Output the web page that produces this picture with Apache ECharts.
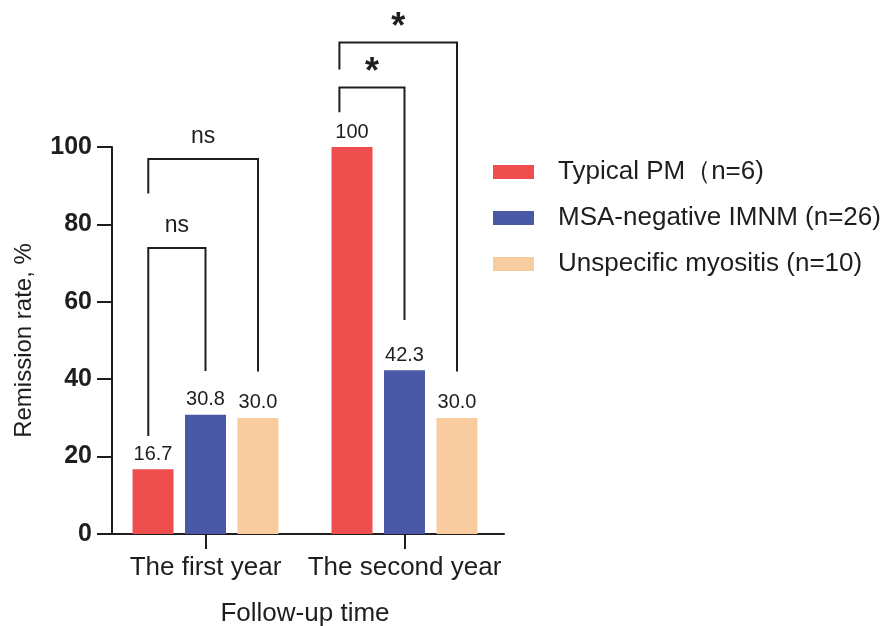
<!DOCTYPE html>
<html lang="en">
<head>
    <meta charset="UTF-8">
    <title>Remission rate</title>
    <style>
        html, body { margin: 0; padding: 0; background: #fff; }
        #main { width: 887px; height: 626px; }
    </style>
    <script src="https://cdn.jsdelivr.net/npm/echarts@6/dist/echarts.min.js"></script>
</head>
<body>

<div id="main"></div>

<script>

    // categories on the x axis
    var years = ['The first year', 'The second year'];

    // remission rate (%) per group
    var typicalPM = [16.7, 100];
    var msaNegative = [30.8, 42.3];
    var unspecific = [30.0, 30.0];

    var groupNames = ['Typical PM（n=6)', 'MSA-negative IMNM (n=26)', 'Unspecific myositis (n=10)'];
    var yTicks = [0, 20, 40, 60, 80, 100];

    // significance brackets: [year index, left slot, right slot, top, left leg end, right leg end, text]
    // slot -1 / 0 / 1 = red / blue / orange bar of the group
    var brackets = [
        [0, -1.09, 0, 73.9, 25.3, 42.1, 'ns'],
        [0, -1.09, 1, 96.9, 88.0, 42.0, 'ns'],
        [1, -1.24, 0, 115.4, 109.0, 55.3, '*'],
        [1, -1.24, 1, 127.0, 120.0, 42.0, '*']
    ];

    var colors = ['#EE4F4E', '#4A59A7', '#F8CC9E'];
    var ink = '#1e1e1e';
    var font = 'Liberation Sans, Arial, sans-serif';
    var barW = 41, barGapPx = 11.5;

    var chartDom = document.getElementById('main');
    var myChart = echarts.init(chartDom);

    function barSeries(name, data, color) {
        return {
            name: name,
            type: 'bar',
            data: data,
            barWidth: barW,
            barGap: (barGapPx / barW * 100).toFixed(0) + '%',
            itemStyle: { color: color },
            label: {
                show: true,
                position: 'top',
                distance: 5,
                color: ink,
                fontFamily: font,
                fontSize: 20,
                formatter: function (p) {
                    return p.value >= 100 ? String(p.value) : p.value.toFixed(1);
                }
            }
        };
    }

    function renderBracket(params, api) {
        var cat = api.value(0);
        var cx = api.coord([cat, 0])[0];
        var pitch = barW + barGapPx;
        var x1 = cx + api.value(1) * pitch;
        var x2 = cx + api.value(2) * pitch;
        var yTop = api.coord([cat, api.value(3)])[1];
        var yL = api.coord([cat, api.value(4)])[1];
        var yR = api.coord([cat, api.value(5)])[1];
        var txt = brackets[params.dataIndex][6];
        var star = txt === '*';
        return {
            type: 'group',
            children: [
                {
                    type: 'polyline',
                    shape: { points: [[x1, yL], [x1, yTop], [x2, yTop], [x2, yR]] },
                    style: { stroke: ink, lineWidth: 2, fill: null }
                },
                {
                    type: 'text',
                    x: (x1 + x2) / 2,
                    y: star ? yTop + 4 : yTop - 11,
                    style: {
                        text: txt,
                        fill: ink,
                        font: (star ? 'bold 36px ' : '23px ') + font,
                        textAlign: 'center',
                        textVerticalAlign: 'bottom'
                    }
                }
            ]
        };
    }

    var option = {
        animation: false,
        grid: {
            left: 106,
            right: 383,
            top: 147,
            bottom: 92,
            outerBoundsMode: 'none'
        },
        legend: {
            data: groupNames,
            orient: 'vertical',
            left: 488,
            top: 154,
            itemWidth: 41,
            itemHeight: 14,
            itemGap: 20,
            icon: 'rect',
            textStyle: {
                color: ink,
                fontFamily: font,
                fontSize: 26,
                padding: [0, 0, 0, 19]
            }
        },
        xAxis: {
            type: 'category',
            data: years,
            name: 'Follow-up time',
            nameLocation: 'middle',
            nameGap: 67,
            nameTextStyle: { color: ink, fontFamily: font, fontSize: 26 },
            axisLine: { lineStyle: { color: ink, width: 2 } },
            axisTick: { show: true, interval: 0, alignWithLabel: true, length: 15, lineStyle: { color: ink, width: 2 } },
            axisLabel: { interval: 0, color: ink, fontFamily: font, fontSize: 26, margin: 21 }
        },
        yAxis: {
            type: 'value',
            min: yTicks[0],
            max: yTicks[yTicks.length - 1],
            interval: yTicks[1] - yTicks[0],
            offset: -6,
            name: 'Remission rate, %',
            nameLocation: 'middle',
            nameGap: 76,
            nameTextStyle: { color: ink, fontFamily: font, fontSize: 24 },
            splitLine: { show: false },
            axisLine: { show: true, lineStyle: { color: ink, width: 2 } },
            axisTick: { show: true, length: 15, lineStyle: { color: ink, width: 2 } },
            axisLabel: { color: ink, fontFamily: font, fontSize: 25, fontWeight: 'bold', margin: 20 }
        },
        series: [
            barSeries(groupNames[0], typicalPM, colors[0]),
            barSeries(groupNames[1], msaNegative, colors[1]),
            barSeries(groupNames[2], unspecific, colors[2]),
            {
                type: 'custom',
                name: 'brackets',
                renderItem: renderBracket,
                clip: false,
                silent: true,
                encode: { x: 0, y: 3 },
                data: brackets.map(function (b) { return b.slice(0, 6); }),
                z: 5
            }
        ]
    };

    myChart.setOption(option);

</script>

</body>
</html>
